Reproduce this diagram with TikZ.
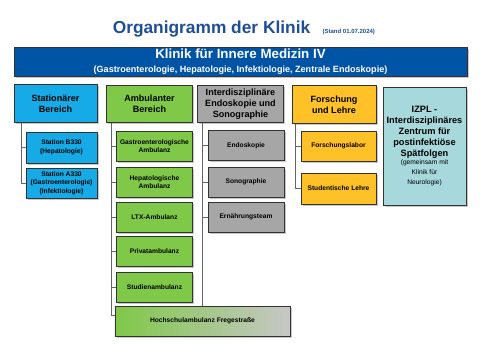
\documentclass[tikz,border=0pt]{standalone}
\usepackage{fontspec}
\setmainfont{Liberation Sans}
\usetikzlibrary{calc,shadows}
\definecolor{titleblue}{RGB}{31,78,150}
\definecolor{topblue}{RGB}{0,84,166}
\definecolor{statblue}{RGB}{22,170,230}
\definecolor{ambgreen}{RGB}{128,200,72}
\definecolor{intgray}{RGB}{166,166,166}
\definecolor{folyellow}{RGB}{255,193,40}
\definecolor{izplteal}{RGB}{166,216,220}
\newcommand\izplnote[1]{{\fontsize{5}{6.4}\selectfont\mdseries #1}}
\tikzset{
 box/.style={draw=black!80,line width=.6pt,align=center,inner sep=0,text=black,drop shadow={shadow xshift=1.2pt,shadow yshift=-1.2pt,opacity=.45}},
 headbox/.style={box,minimum width=65pt,minimum height=28pt,font=\fontsize{6.8}{8.4}\selectfont\bfseries},
 unitbox/.style={box,minimum width=57.5pt,minimum height=22.5pt,font=\fontsize{5}{6.4}\selectfont\bfseries},
 link/.style={draw=black!60,line width=.5pt}
}

\begin{document}
\begin{tikzpicture}[x=.75pt,y=-.75pt]
\path[use as bounding box] (0,0) rectangle (480,361);
\node[anchor=base,font=\fontsize{13}{15}\selectfont\bfseries,text=titleblue] (title) at (211.5,33.5) {Organigramm der Klinik};
\node[anchor=base west,font=\fontsize{4.5}{5}\selectfont\bfseries,text=titleblue] (stand) at ($(title.base east)+(3,0)$) {(Stand 01.07.2024)};
\node[box,fill=topblue,text=white,minimum width=339.75pt,minimum height=21.75pt] (klinik) at (240.5,61.5)
 {{\fontsize{10}{11}\selectfont\bfseries Klinik für Innere Medizin IV}\\[-1pt]
  {\fontsize{6.8}{8}\selectfont\bfseries (Gastroenterologie, Hepatologie, Infektiologie, Zentrale Endoskopie)}};
\node[headbox,fill=statblue,minimum width=62.25pt] (stat) at (55.5,103.5) {Stationärer\\Bereich};
\node[headbox,fill=ambgreen] (amb) at (149.5,104) {Ambulanter\\Bereich};
\node[headbox,fill=intgray] (intd) at (240.5,104) {Interdisziplinäre\\Endoskopie und\\Sonographie};
\node[headbox,fill=folyellow,minimum width=63pt] (fol) at (334,104.5) {Forschung\\und Lehre};
\node[box,fill=izplteal,minimum width=62.25pt,minimum height=88.5pt,font=\fontsize{6.9}{8.2}\selectfont\bfseries] (izpl) at (424.5,146)
 {IZPL -\\Interdisziplinäres\\Zentrum für\\postinfektiöse\\Spätfolgen\\[-1.5pt]
  \izplnote{(gemeinsam mit}\\[-.8pt]\izplnote{Klinik für}\\[-.8pt]\izplnote{Neurologie)}};
\node[unitbox,fill=statblue,minimum width=53.25pt,minimum height=23.25pt] (statB) at (61.5,147.5) {Station B330\\(Hepatologie)};
\node[unitbox,fill=statblue,minimum width=53.25pt] (statA) at (61.5,183) {Station A330\\(Gastroenterologie)\\(Infektiologie)};
\node[unitbox,fill=ambgreen] (gastro) at (154.5,146) {Gastroenterologische\\Ambulanz};
\node[unitbox,fill=ambgreen] (hepa) at (154.5,182) {Hepatologische\\Ambulanz};
\node[unitbox,fill=ambgreen] (ltx) at (154.5,217) {LTX-Ambulanz};
\node[unitbox,fill=ambgreen] (privat) at (154.5,251.5) {Privatambulanz};
\node[unitbox,fill=ambgreen] (studien) at (154.5,287.5) {Studienambulanz};
\node[unitbox,left color=ambgreen,right color=black!22,minimum width=131.25pt] (hsa) at (202.5,321) {Hochschulambulanz Fregestraße};
\node[unitbox,fill=intgray,minimum width=57pt] (endo) at (246,145.5) {Endoskopie};
\node[unitbox,fill=intgray,minimum width=57pt] (sono) at (246,182) {Sonographie};
\node[unitbox,fill=intgray,minimum width=57pt] (ernae) at (246,217) {Ernährungsteam};
\node[unitbox,fill=folyellow,minimum width=56.25pt] (flabor) at (338.5,146) {Forschungslabor};
\node[unitbox,fill=folyellow,minimum width=56.25pt,minimum height=23.25pt] (slehre) at (338.5,188.5) {Studentische Lehre};
\coordinate (statT) at ($(stat.south west)+(8,0)$);
\coordinate (ambT) at ($(amb.south west)+(6,0)$);
\coordinate (intdT) at ($(intd.south west)+(6,0)$);
\coordinate (folT) at ($(fol.south west)+(4,0)$);
\draw[link] (statT) |- (statB.west);
\draw[link] (statT) |- (statA.west);
\draw[link] (ambT) |- (gastro.west);
\draw[link] (ambT) |- (hepa.west);
\draw[link] (ambT) |- (ltx.west);
\draw[link] (ambT) |- (privat.west);
\draw[link] (ambT) |- (studien.west);
\draw[link] (ambT) |- ($(hsa.north west)!.3!(hsa.south west)$);
\draw[link] (intdT) |- (endo.west);
\draw[link] (intdT) |- (sono.west);
\draw[link] (intdT) |- (ernae.west);
\draw[link] (intdT) -- (intdT |- hsa.north);
\draw[link] (folT) |- (flabor.west);
\draw[link] (folT) |- (slehre.west);
\end{tikzpicture}
\end{document}
